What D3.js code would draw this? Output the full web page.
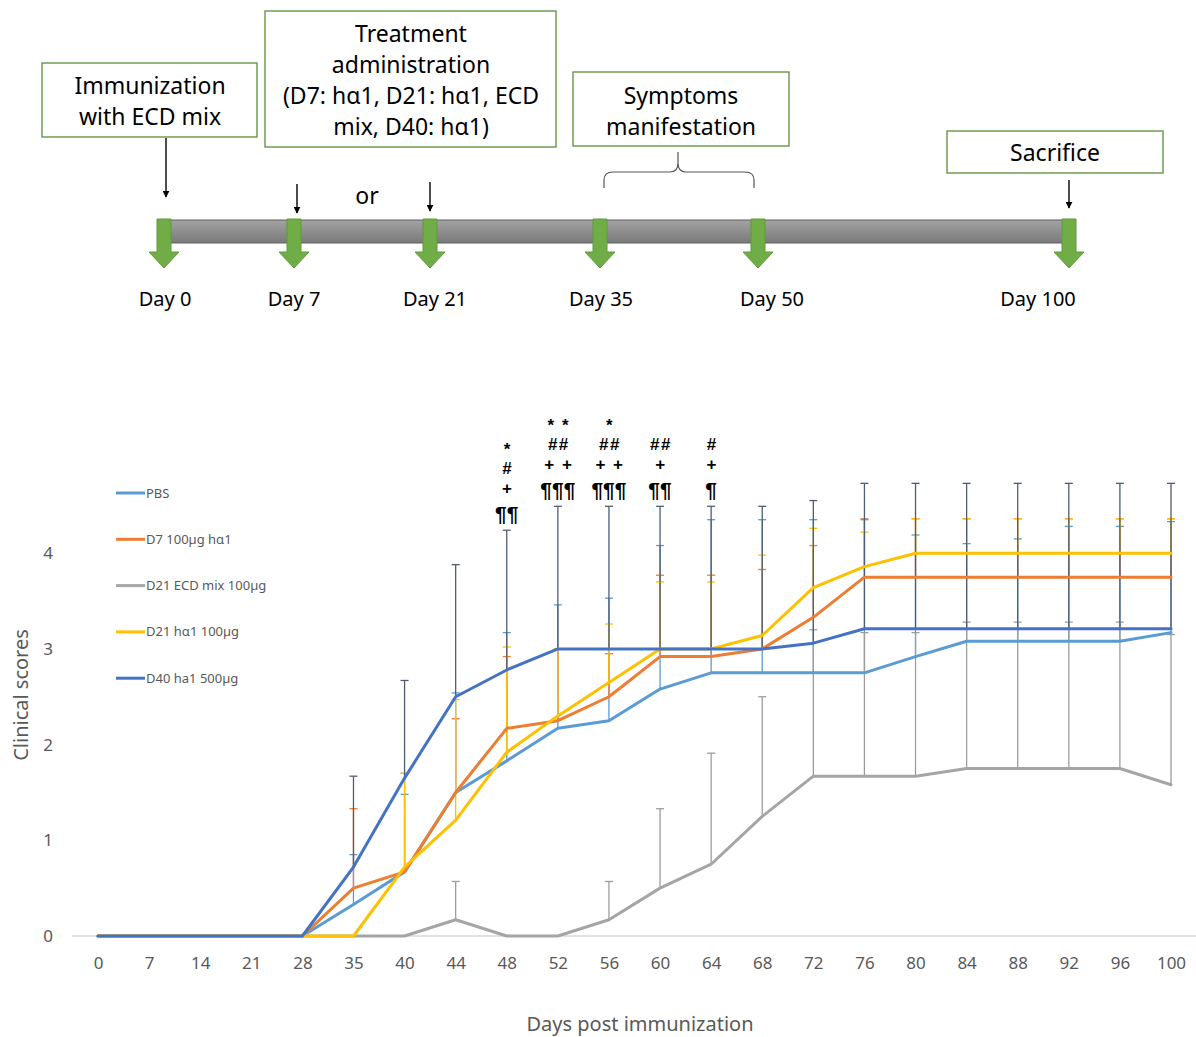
<!DOCTYPE html>
<html>
<head>
<meta charset="utf-8">
<script src="https://cdn.jsdelivr.net/npm/d3@7"></script>
<style>
  html, body { margin: 0; padding: 0; background: #fff; }
  svg { display: block; }
</style>
</head>
<body>
<svg id="fig" width="1196" height="1037"></svg>
<script>
// ---------- timeline ----------
const timelineDays = [0, 7, 21, 35, 50, 100];
const timelineLabels = ["Day 0", "Day 7", "Day 21", "Day 35", "Day 50", "Day 100"];
const timelineBoxes = [
  ["Immunization", "with ECD mix"],
  ["Treatment", "administration", "(D7: h\u03b11, D21: h\u03b11, ECD", "mix, D40: h\u03b11)"],
  ["Symptoms", "manifestation"],
  ["Sacrifice"]
];

// ---------- clinical score chart ----------
const days = [0, 7, 14, 21, 28, 35, 40, 44, 48, 52, 56, 60, 64, 68, 72, 76, 80, 84, 88, 92, 96, 100];
const seriesNames = ["PBS", "D7 100\u00b5g h\u03b11", "D21 ECD mix 100\u00b5g", "D21 h\u03b11 100\u00b5g", "D40 ha1 500\u00b5g"];
const pbs      = [0,0,0,0,0,0.33,0.67,1.50,1.83,2.17,2.25,2.58,2.75,2.75,2.75,2.75,2.92,3.08,3.08,3.08,3.08,3.17];
const d7Ha1    = [0,0,0,0,0,0.50,0.67,1.50,2.17,2.25,2.50,2.92,2.92,3.00,3.33,3.75,3.75,3.75,3.75,3.75,3.75,3.75];
const d21Ecd   = [0,0,0,0,0,0,0,0.17,0,0,0.17,0.50,0.75,1.25,1.67,1.67,1.67,1.75,1.75,1.75,1.75,1.58];
const d21Ha1   = [0,0,0,0,0,0,0.72,1.21,1.92,2.30,2.65,3.00,3.00,3.14,3.64,3.86,4.00,4.00,4.00,4.00,4.00,4.00];
const d40Ha1   = [0,0,0,0,0,0.72,1.65,2.50,2.78,3.00,3.00,3.00,3.00,3.00,3.06,3.21,3.21,3.21,3.21,3.21,3.21,3.21];
// upper error bars
const pbsErr    = [0,0,0,0,0,0.52,0.81,1.04,1.34,1.29,1.28,1.50,1.60,1.60,1.60,1.60,1.27,1.02,1.07,1.20,1.20,1.16];
const d7Err     = [0,0,0,0,0,0.83,1.03,0.77,0.75,0.75,0.45,0.85,0.85,0.83,0.75,0.61,0.61,0.61,0.61,0.61,0.61,0.61];
const d21EcdErr = [0,0,0,0,0,0,0,0.40,0,0,0.40,0.83,1.16,1.25,1.53,1.50,1.50,1.53,1.53,1.53,1.53,1.57];
const d21Ha1Err = [0,0,0,0,0,0,0.98,1.26,1.10,0.70,0.61,0.70,0.70,0.84,0.62,0.36,0.36,0.36,0.36,0.36,0.36,0.36];
const d40Err    = [0,0,0,0,0,0.95,1.02,1.38,1.46,1.49,1.49,1.49,1.49,1.49,1.49,1.52,1.52,1.52,1.52,1.52,1.52,1.52];
const yTicks = [0, 1, 2, 3, 4];
// significance marks above the error bars, listed top to bottom
const sigDays = [48, 52, 56, 60, 64];
const sigMarks = [
  ["*", "#", "+", "\u00b6\u00b6"],
  ["* *", "##", "+ +", "\u00b6\u00b6\u00b6"],
  ["*", "##", "+ +", "\u00b6\u00b6\u00b6"],
  ["##", "+", "\u00b6\u00b6"],
  ["#", "+", "\u00b6"]
];

const svg = d3.select("#fig");
const FONT = "'Noto Sans', 'Open Sans', sans-serif";

// ================= timeline diagram =================
const tl = svg.append("g");
const tx = d3.scaleLinear().domain(timelineDays).range([164, 294, 430, 600, 758, 1069]);

const defs = svg.append("defs");
const grad = defs.append("linearGradient").attr("id", "barGrad").attr("x1", 0).attr("y1", 0).attr("x2", 0).attr("y2", 1);
grad.append("stop").attr("offset", "0%").attr("stop-color", "#a3a3a3");
grad.append("stop").attr("offset", "50%").attr("stop-color", "#8e8e8e");
grad.append("stop").attr("offset", "100%").attr("stop-color", "#7a7a7a");
defs.append("marker").attr("id", "arrowHead").attr("viewBox", "0 0 10 10")
  .attr("refX", 9).attr("refY", 5).attr("markerWidth", 7).attr("markerHeight", 7)
  .attr("markerUnits", "userSpaceOnUse").attr("orient", "auto")
  .append("path").attr("d", "M0,0 L10,5 L0,10 Z").attr("fill", "#000");

// grey time bar
tl.append("rect")
  .attr("x", tx(0)).attr("y", 220)
  .attr("width", tx(100) - tx(0)).attr("height", 23)
  .attr("fill", "url(#barGrad)").attr("stroke", "#606060").attr("stroke-width", 1);

// green milestone arrows
tl.selectAll("path.milestone").data(timelineDays).join("path")
  .attr("class", "milestone")
  .attr("d", d => {
    const c = tx(d);
    return `M${c - 7},219 L${c + 7},219 L${c + 7},252 L${c + 15},252 L${c},268 L${c - 15},252 L${c - 7},252 Z`;
  })
  .attr("fill", "#70ad47").attr("stroke", "#5e9a3a").attr("stroke-width", 1);

// day labels below the bar
const labelShift = [1, 0, 5, 1, 14, -31];
tl.selectAll("text.day").data(timelineLabels).join("text")
  .attr("class", "day")
  .attr("x", (d, i) => tx(timelineDays[i]) + labelShift[i])
  .attr("y", 306)
  .attr("text-anchor", "middle")
  .attr("font-family", FONT).attr("font-size", 20).attr("fill", "#000")
  .text(d => d);

// text boxes
const boxFrames = [
  { x: 42, y: 63, w: 215, h: 74, cx: 150, base: 94 },
  { x: 265, y: 11, w: 291, h: 136, cx: 411, base: 42 },
  { x: 573, y: 72, w: 216, h: 74, cx: 681, base: 104 },
  { x: 947, y: 131, w: 216, h: 42, cx: 1055, base: 161 }
];
timelineBoxes.forEach((lines, i) => {
  const f = boxFrames[i];
  tl.append("rect").attr("x", f.x).attr("y", f.y).attr("width", f.w).attr("height", f.h)
    .attr("fill", "#fff").attr("stroke", "#5b8f3a").attr("stroke-width", 1.3);
  lines.forEach((t, j) => {
    tl.append("text").attr("x", f.cx).attr("y", f.base + j * 31)
      .attr("text-anchor", "middle").attr("font-family", FONT).attr("font-size", 23)
      .attr("fill", "#000").text(t);
  });
});

// thin black pointer arrows
const pointers = [
  { x: tx(0) + 2, y1: 138, y2: 197 },
  { x: tx(7) + 3, y1: 184, y2: 213 },
  { x: tx(21), y1: 182, y2: 211 },
  { x: tx(100), y1: 180, y2: 208 }
];
tl.selectAll("line.pointer").data(pointers).join("line")
  .attr("class", "pointer")
  .attr("x1", d => d.x).attr("x2", d => d.x).attr("y1", d => d.y1).attr("y2", d => d.y2)
  .attr("stroke", "#000").attr("stroke-width", 1.4).attr("marker-end", "url(#arrowHead)");

tl.append("text").attr("x", 367).attr("y", 204).attr("text-anchor", "middle")
  .attr("font-family", FONT).attr("font-size", 23).attr("fill", "#000").text("or");

// curly brace spanning the symptom window
{
  const l = tx(35) + 4, r = tx(50) - 4, m = (l + r) / 2 - 1;
  tl.append("path")
    .attr("d", `M${l},188 L${l},180 Q${l},172 ${l + 9},172 L${m - 8},172 Q${m},172 ${m},163 L${m},152 ` +
               `M${m},163 Q${m},172 ${m + 8},172 L${r - 9},172 Q${r},172 ${r},180 L${r},188`)
    .attr("fill", "none").attr("stroke", "#555").attr("stroke-width", 1.2);
}

// ================= clinical score chart =================
const chart = svg.append("g");
const x = d3.scalePoint().domain(days).range([98, 1171]);
const y = d3.scaleLinear().domain([0, 5]).range([936, 457.5]);

const series = [
  { name: seriesNames[0], values: pbs,    err: pbsErr,    color: "#5b9bd5", errColor: "#5b9bd5" },
  { name: seriesNames[1], values: d7Ha1,  err: d7Err,     color: "#ed7d31", errColor: "#ed7d31" },
  { name: seriesNames[2], values: d21Ecd, err: d21EcdErr, color: "#a5a5a5", errColor: "#9d9d9d" },
  { name: seriesNames[3], values: d21Ha1, err: d21Ha1Err, color: "#ffc000", errColor: "#ffc000" },
  { name: seriesNames[4], values: d40Ha1, err: d40Err,    color: "#4472c4", errColor: "#4f5d73" }
];

// baseline
chart.append("line").attr("x1", 72).attr("x2", 1196).attr("y1", y(0)).attr("y2", y(0))
  .attr("stroke", "#d9d9d9").attr("stroke-width", 1.3);

// x axis
const xAxis = chart.append("g").attr("transform", `translate(0,${y(0)})`)
  .call(d3.axisBottom(x).tickSize(0).tickPadding(21));
xAxis.select(".domain").remove();
xAxis.selectAll("text").attr("font-family", FONT).attr("font-size", 17).attr("fill", "#595959");

// y axis
const yAxis = chart.append("g").attr("transform", "translate(72,0)")
  .call(d3.axisLeft(y).tickValues(yTicks).tickFormat(d3.format("d")).tickSize(0).tickPadding(19));
yAxis.select(".domain").remove();
yAxis.selectAll("text").attr("font-family", FONT).attr("font-size", 17).attr("fill", "#595959");

// axis titles
chart.append("text").attr("x", 640).attr("y", 1031).attr("text-anchor", "middle")
  .attr("font-family", FONT).attr("font-size", 20).attr("fill", "#595959")
  .text("Days post immunization");
chart.append("text").attr("transform", `translate(28,695) rotate(-90)`).attr("text-anchor", "middle")
  .attr("font-family", FONT).attr("font-size", 20).attr("fill", "#595959")
  .text("Clinical scores");

// error bars (upper)
series.forEach(s => {
  const g = chart.append("g").attr("stroke", s.errColor).attr("stroke-width", 1.3);
  const pts = days.map((d, i) => ({ d, v: s.values[i], e: s.err[i] })).filter(p => p.e > 0);
  g.selectAll("line.stem").data(pts).join("line").attr("class", "stem")
    .attr("x1", p => x(p.d)).attr("x2", p => x(p.d))
    .attr("y1", p => y(p.v)).attr("y2", p => y(p.v + p.e));
  g.selectAll("line.cap").data(pts).join("line").attr("class", "cap")
    .attr("x1", p => x(p.d) - 4).attr("x2", p => x(p.d) + 4)
    .attr("y1", p => y(p.v + p.e)).attr("y2", p => y(p.v + p.e));
});

// series lines
const line = d3.line().x((v, i) => x(days[i])).y(v => y(v));
series.forEach(s => {
  chart.append("path").datum(s.values)
    .attr("d", line).attr("fill", "none")
    .attr("stroke", s.color).attr("stroke-width", 3)
    .attr("stroke-linejoin", "round").attr("stroke-linecap", "round");
});

// legend
const legend = chart.append("g");
series.forEach((s, i) => {
  const ly = 493 + i * 46.3;
  legend.append("line").attr("x1", 116).attr("x2", 145).attr("y1", ly).attr("y2", ly)
    .attr("stroke", s.color).attr("stroke-width", 3);
  legend.append("text").attr("x", 146).attr("y", ly + 4.5)
    .attr("font-family", FONT).attr("font-size", 13).attr("fill", "#595959").text(s.name);
});

// significance marks
const sig = chart.append("g").attr("font-family", "'Liberation Sans', Arial, sans-serif")
  .attr("font-weight", "bold").attr("fill", "#000").attr("text-anchor", "middle");
const markOffsets = [0, 27, 47, 66];
sigDays.forEach((d, k) => {
  const i = days.indexOf(d);
  const top = y(d40Ha1[i] + d40Err[i]);
  const base = top - 9;
  const marks = sigMarks[k].slice().reverse();
  marks.forEach((m, j) => {
    sig.append("text").attr("x", x(d) + (j === 0 ? 0 : 1)).attr("y", base - markOffsets[j])
      .attr("font-size", j === 0 ? 21 : 17)
      .attr("letter-spacing", j === 0 ? 0 : 1.5)
      .text(m);
  });
});
</script>
</body>
</html>
